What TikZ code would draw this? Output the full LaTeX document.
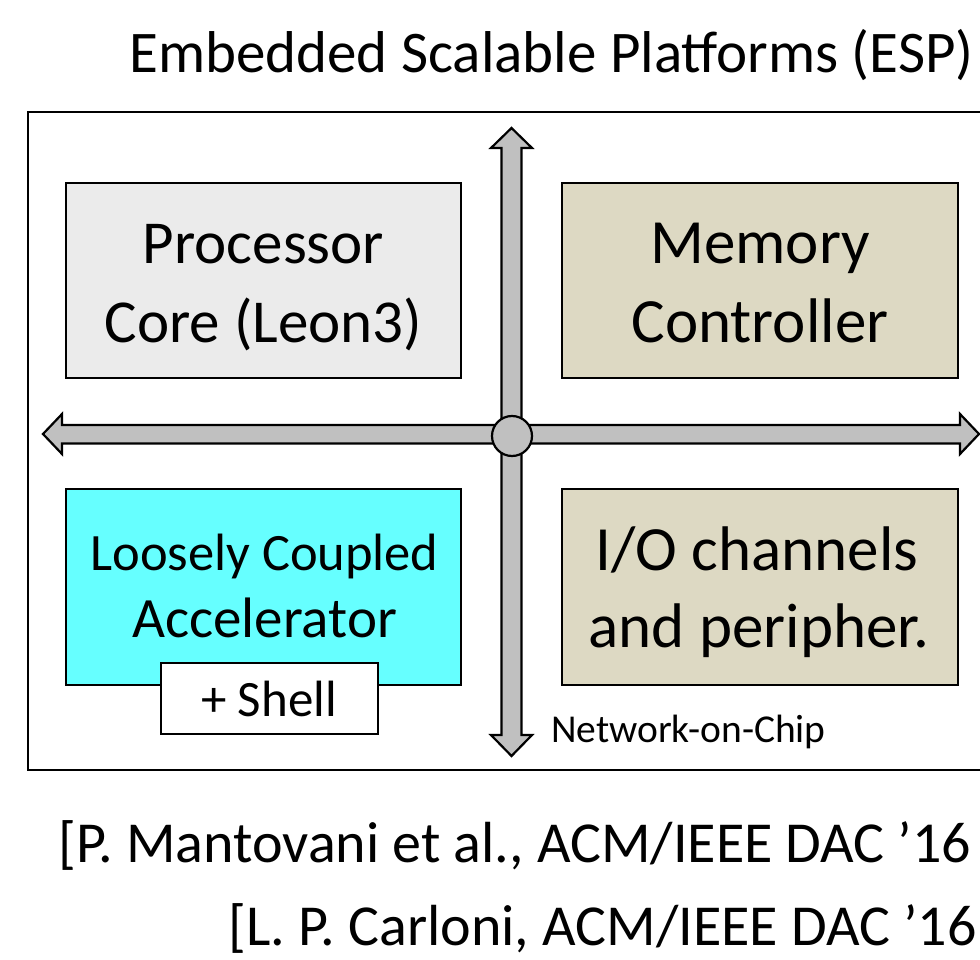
\documentclass[tikz,border=0pt]{standalone}
\usepackage{fontspec}
\setmainfont{Carlito}
\definecolor{coregray}{HTML}{EBEBEB}
\definecolor{tanfill}{HTML}{DDD9C3}
\definecolor{accfill}{HTML}{66FFFF}
\definecolor{nocgray}{HTML}{C0C0C0}
\tikzset{
  tile/.style={draw=black, line width=2pt, rectangle},
  nocarrow/.style={draw=black, fill=nocgray, line width=2.2pt, line join=miter},
  fs/.style={font=\fontsize{#1}{#1}\selectfont, inner sep=0pt, anchor=base},
}
\begin{document}
\begin{tikzpicture}[x=1pt, y=-1pt]
\useasboundingbox (0,0) rectangle (980,960);
\clip (0,0) rectangle (980,960);
\fill[white] (0,0) rectangle (980,960);

% title
\node[fs=59] (title) at (551.5,73) {Embedded Scalable Platforms (ESP)};

% outer frame (runs past the right edge)
\draw[line width=2.6pt] (1000,112) -- (28,112) -- (28,770) -- (1000,770);

% four tiles
\node[tile, fill=coregray, minimum width=395pt, minimum height=195pt] (core) at (263.5,280.5) {};
\node[tile, fill=tanfill, minimum width=396pt, minimum height=195pt] (mem) at (760,280.5) {};
\node[tile, fill=accfill, minimum width=395pt, minimum height=196pt] (acc) at (263.5,587) {};
\node[tile, fill=tanfill, minimum width=396pt, minimum height=196pt] (io) at (760,587) {};

\node[fs=61] (coreA) at (263.5,263) {Processor};
\node[fs=61] (coreB) at (263.5,342) {Core (Leon3)};
\node[fs=63] (memA) at (760,263) {Memory};
\node[fs=63] (memB) at (760,342) {Controller};
\node[fs=52.5] (accA) at (264.5,570) {Loosely Coupled};
\node[fs=57] (accB) at (264.5,637) {Accelerator};
\node[fs=63] (ioA) at (757,570) {I/O channels};
\node[fs=63] (ioB) at (759,647) {and peripher.};

% shell box overlapping the accelerator
\node[tile, fill=white, minimum width=217pt, minimum height=71pt] (shell) at (269.5,698.5) {};
\node[fs=51] (shellT) at (269,716) {+ Shell};

% network-on-chip: two double-headed block arrows
\draw[nocarrow] (511.5,128) -- (532,148) -- (521.5,148) -- (521.5,735) -- (532,735)
  -- (511.5,756) -- (491,735) -- (501.5,735) -- (501.5,148) -- (491,148) -- cycle;
\draw[nocarrow] (43,434) -- (62,414) -- (62,425) -- (960,425) -- (960,414)
  -- (979,434) -- (960,454) -- (960,443.5) -- (62,443.5) -- (62,454) -- cycle;
\node[draw=black, fill=nocgray, line width=2.2pt, circle, minimum size=40pt, inner sep=0pt] (hub) at (512,436) {};
\node[fs=39.5, anchor=base west] (noc) at (551,742) {Network-on-Chip};

% references
\node[fs=58, anchor=base west] (ref1) at (58,862) {[P. Mantovani et al., ACM/IEEE DAC ’16};
\node[fs=58, anchor=base west] (ref2) at (228,945) {[L. P. Carloni, ACM/IEEE DAC ’16};
\end{tikzpicture}
\end{document}
